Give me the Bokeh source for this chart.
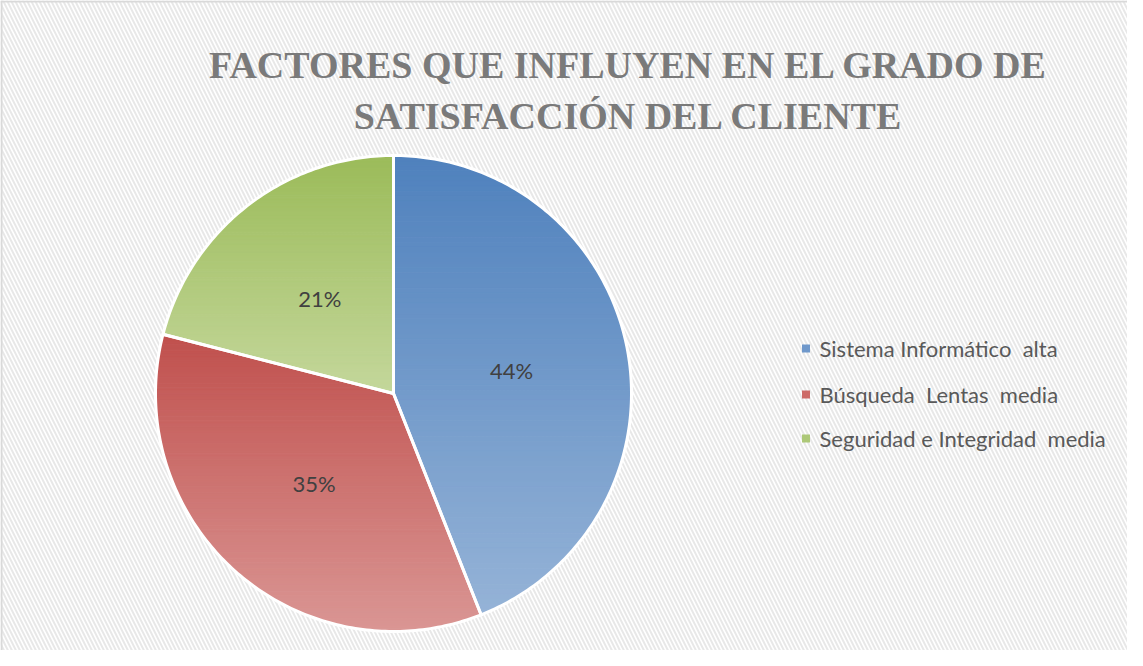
import numpy as np
from bokeh.plotting import figure
from bokeh.models import Range1d, BoxAnnotation, Span
from bokeh.core.properties import value
from bokeh.embed import file_html
from bokeh.resources import INLINE

# ---- data ----
title_lines = ["FACTORES QUE INFLUYEN EN EL GRADO DE", "SATISFACCIÓN DEL CLIENTE"]
categories = ["Sistema Informático  alta", "Búsqueda  Lentas  media", "Seguridad e Integridad  media"]
shares = [44, 35, 21]
pct_labels = ["44%", "35%", "21%"]
top_colors = [(79, 129, 189), (192, 80, 77), (155, 187, 89)]
bottom_colors = [(149, 179, 215), (218, 150, 148), (196, 215, 155)]
legend_colors = ["#6f98cb", "#cd6b68", "#adc878"]

# ---- layout (data units == page pixels) ----
W, H = 1127, 650
X0, Y0 = 8, 8
cx, cy, R = 401.0, 401.0, 238.0

p = figure(width=W, height=H, output_backend="svg", toolbar_location=None,
           x_range=Range1d(X0, X0 + W), y_range=Range1d(Y0 + H, Y0),
           min_border=0, outline_line_color=None)
p.axis.visible = False
p.grid.visible = False
p.background_fill_color = "white"
p.border_fill_color = "white"

p.add_layout(BoxAnnotation(fill_color="white", fill_alpha=1.0, line_color=None,
                           hatch_pattern="left_diagonal_line", hatch_color="#e8e8e8",
                           hatch_scale=8, hatch_weight=2, level="underlay"))
p.add_layout(Span(location=9, dimension="height", line_color="#d9d9d9", line_width=2))
p.add_layout(Span(location=9, dimension="width", line_color="#d9d9d9", line_width=2))


def wedge_poly(a0, a1):
    n = max(int((a1 - a0) / (2 * np.pi) * 400), 8)
    th = np.linspace(a0, a1, n)
    xs = np.concatenate([[cx], cx + R * np.sin(th)])
    ys = np.concatenate([[cy], cy - R * np.cos(th)])
    return list(zip(xs, ys))


def clip_half(poly, yv, keep_above):
    out = []
    n = len(poly)
    for i in range(n):
        A = poly[i]
        B = poly[(i + 1) % n]
        ina = (A[1] >= yv) if keep_above else (A[1] <= yv)
        inb = (B[1] >= yv) if keep_above else (B[1] <= yv)
        if ina:
            out.append(A)
        if ina != inb:
            t = (yv - A[1]) / (B[1] - A[1])
            out.append((A[0] + t * (B[0] - A[0]), yv))
    return out


def hexc(c):
    return "#%02x%02x%02x" % tuple(int(round(v)) for v in c)


total = float(sum(shares))
angles = np.cumsum([0] + shares) / total * 2 * np.pi
band_xs, band_ys, band_cols = [], [], []
out_xs, out_ys = [], []
lab_x, lab_y = [], []
NB = 90
for i in range(len(shares)):
    a0, a1 = angles[i], angles[i + 1]
    poly = wedge_poly(a0, a1)
    ys_all = [pt[1] for pt in poly]
    ymin, ymax = min(ys_all), max(ys_all)
    edges = np.linspace(ymin, ymax, NB + 1)
    for k in range(NB):
        sub = clip_half(poly, edges[k], True)
        if len(sub) < 3:
            continue
        sub = clip_half(sub, edges[k + 1], False)
        if len(sub) < 3:
            continue
        t = (k + 0.5) / NB
        c = [top_colors[i][j] + t * (bottom_colors[i][j] - top_colors[i][j]) for j in range(3)]
        band_xs.append([q[0] for q in sub])
        band_ys.append([q[1] for q in sub])
        band_cols.append(hexc(c))
    out_xs.append([q[0] for q in poly])
    out_ys.append([q[1] for q in poly])
    am = (a0 + a1) / 2
    lab_x.append(cx + 0.505 * R * np.sin(am))
    lab_y.append(cy - 0.505 * R * np.cos(am))

p.patches(band_xs, band_ys, fill_color=band_cols, line_color=band_cols, line_width=1)
p.patches(out_xs, out_ys, fill_color=None, line_color="white", line_width=3, line_join="miter")

p.text(lab_x, lab_y, text=pct_labels, text_align="center", text_baseline="middle",
       text_font=value("Lato"), text_font_size="22px", text_color="#404040")

# title
p.text([636, 636], [72, 123], text=title_lines, text_align="center", text_baseline="alphabetic",
       text_font=value("Liberation Serif"), text_font_style="bold", text_font_size="38px",
       text_color="#7a7a7a")

# legend (keep the double spaces visible)
shown = [c.replace("  ", " \u00a0") for c in categories]
leg_y = [356, 402, 446]
p.scatter([813.5] * 3, leg_y, marker="square", size=8, fill_color=legend_colors, line_color=None)
p.text([827] * 3, leg_y, text=shown, text_align="left", text_baseline="middle",
       text_font=value("Lato"), text_font_size="22px", text_color="#595959")

open("out.html", "w").write(file_html(p, INLINE))
